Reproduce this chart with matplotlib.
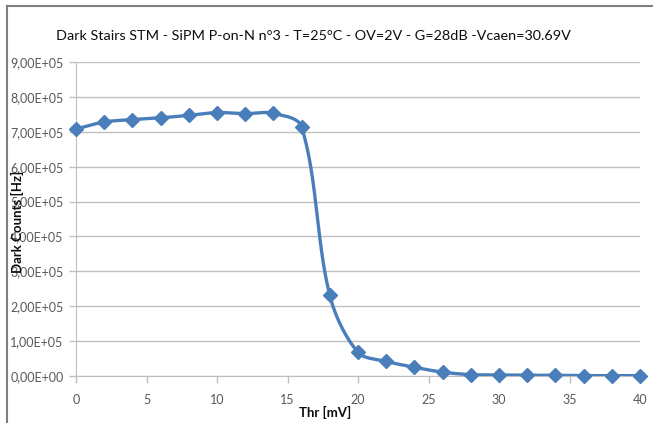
"""
Dark Stairs STM - SiPM: dark counts vs threshold (Excel-style smoothed line)
"""

import matplotlib
matplotlib.use('Agg')
import matplotlib.pyplot as plt
import matplotlib.ticker as mticker
from matplotlib.lines import Line2D
import numpy as np

# Данные
thr_mv = [0, 2, 4, 6, 8, 10, 12, 14, 16, 18, 20, 22, 24, 26, 28, 30, 32, 34, 36, 38, 40]
dark_counts = [7.08e5, 7.28e5, 7.35e5, 7.40e5, 7.47e5, 7.55e5, 7.52e5, 7.53e5,
               7.14e5, 2.31e5, 0.68e5, 0.42e5, 0.25e5, 0.11e5, 0.04e5, 0.03e5,
               0.02e5, 0.02e5, 0.01e5, 0.01e5, 0.01e5]
y_ticks = [i * 1e5 for i in range(10)]
x_ticks = [0, 5, 10, 15, 20, 25, 30, 35, 40]

TITLE = 'Dark Stairs STM - SiPM P-on-N n°3 - T=25°C - OV=2V - G=28dB -Vcaen=30.69V'
LINE_COLOR = '#4A7EBB'
TEXT_COLOR = '#595959'
FONT = ['Lato', 'DejaVu Sans']


def smooth(xs, ys, sx, sy, n=40):
    """Сглаживание как в Excel: Безье, касательные масштабируются по длинам хорд
    (в пиксельных координатах sx, sy)."""
    pts = np.column_stack([np.asarray(xs, float) * sx, np.asarray(ys, float) * sy])
    pts = np.vstack([pts[0], pts, pts[-1]])
    t = np.linspace(0, 1, n)[:, None]
    out = []
    for i in range(1, len(pts) - 2):
        p_prev, p0, p3, p_next = pts[i - 1], pts[i], pts[i + 1], pts[i + 2]
        d_prev = np.hypot(*(p0 - p_prev))
        d = np.hypot(*(p3 - p0))
        d_next = np.hypot(*(p_next - p3))
        k1 = d / (d_prev + d) / 3 if d_prev + d > 0 else 0
        k2 = d / (d + d_next) / 3 if d + d_next > 0 else 0
        c1 = p0 + (p3 - p_prev) * k1
        c2 = p3 - (p_next - p0) * k2
        b = (1 - t) ** 3 * p0 + 3 * (1 - t) ** 2 * t * c1 \
            + 3 * (1 - t) * t ** 2 * c2 + t ** 3 * p3
        out.append(b)
    out = np.vstack(out)
    return out[:, 0] / sx, out[:, 1] / sy


plt.rcParams['font.family'] = FONT

fig = plt.figure(figsize=(6.53, 4.23), dpi=100)
ax = fig.add_axes([76 / 653, 1 - 376 / 423, (640 - 76) / 653, (376 - 62) / 423])

# масштаб пикселей: 564 px на 40 мВ, 314 px на 9e5 Гц
sx_, sy_ = smooth(thr_mv, dark_counts, 564 / 40, 314 / 9e5)
ax.plot(sx_, sy_, color=LINE_COLOR, lw=2.4, zorder=3, solid_capstyle='round')
ax.plot(thr_mv, dark_counts, ls='none', marker='D', ms=7.5, color=LINE_COLOR,
        zorder=4, clip_on=False)

ax.set_xlim(0, 40)
ax.set_ylim(0, 9e5)
ax.set_xticks(x_ticks)
ax.set_yticks(y_ticks)
ax.yaxis.set_major_formatter(
    mticker.FuncFormatter(lambda v, _: f'{v / 1e5:.2f}'.replace('.', ',') + 'E+05'
                          if v > 0 else '0,00E+00')
)
ax.grid(axis='y', color='#BFBFBF', lw=1)
ax.set_axisbelow(True)
for side in ['top', 'right']:
    ax.spines[side].set_visible(False)
ax.spines['left'].set_color('#BFBFBF')
ax.spines['bottom'].set_color('#BFBFBF')
ax.tick_params(axis='both', colors='#BFBFBF', labelcolor=TEXT_COLOR,
               labelsize=9, length=5, width=1)
ax.tick_params(axis='y', pad=4)
ax.tick_params(axis='x', pad=8)

fig.text(313 / 653, 1 - 36 / 423, TITLE, ha='center', va='center',
         fontsize=10.4, color='#0d0d0d')
fig.text(17 / 653, 1 - 222 / 423, 'Dark Counts [Hz]', rotation=90, ha='center',
         va='center', fontsize=9.5, fontweight='bold', color='#0d0d0d')
fig.text(325 / 653, 1 - 412 / 423, 'Thr [mV]', ha='center', va='center',
         fontsize=9.5, fontweight='bold', color='#0d0d0d')

# рамка диаграммы (видны только верх и лево)
fig.add_artist(Line2D([7 / 653, 7 / 653], [0, 1 - 6 / 423], transform=fig.transFigure,
                      color='#7F7F7F', lw=1.5))
fig.add_artist(Line2D([7 / 653, 1], [1 - 6 / 423, 1 - 6 / 423], transform=fig.transFigure,
                      color='#7F7F7F', lw=1.5))

fig.savefig('out.png', dpi=100)
plt.close(fig)
